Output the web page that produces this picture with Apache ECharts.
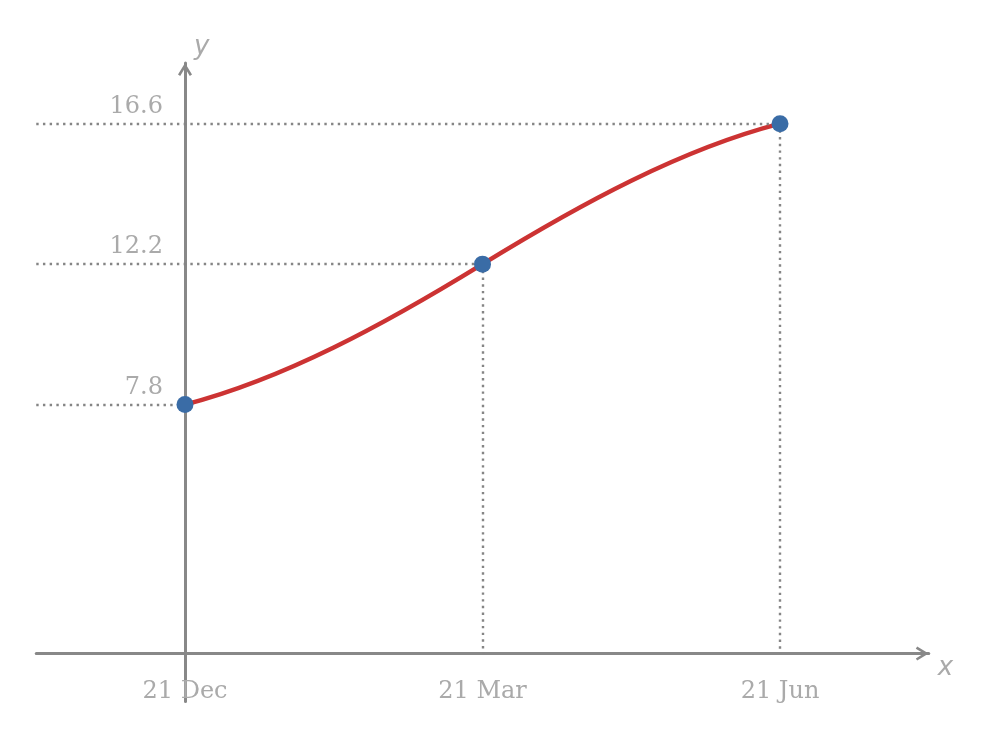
<!DOCTYPE html>
<html>
<head>
<meta charset="utf-8">
<script src="https://cdn.jsdelivr.net/npm/echarts@6/dist/echarts.min.js"></script>
<style>html,body{margin:0;padding:0;background:#fff;}#chart{width:991px;height:738px;}</style>
</head>
<body>
<div id="chart"></div>
<script>
// Data
var categories = ['21 Dec', '21 Mar', '21 Jun'];
var xPositions = [0, 1, 2];
var dayHours = [7.8, 12.2, 16.6];
var yTickValues = [7.8, 12.2, 16.6];

var points = xPositions.map(function (x, i) { return [x, dayHours[i]]; });

var labelColor = '#aaaaaa';
var axisColor = '#888888';
var serif = 'DejaVu Serif';

// dotted guide lines
var guideLines = [];
points.forEach(function (p) {
  guideLines.push([{ coord: [-0.5, p[1]] }, { coord: [p[0], p[1]] }]);
  if (p[0] !== 0) guideLines.push([{ coord: [p[0], p[1]] }, { coord: [p[0], 0] }]);
});

// tangent factors for the smooth curve (style)
var endTangent = 0.55, midTangent = 1.3;

var chevron = 'path://M0,11.5 L7,0 L14,11.5 L11.8,12.85 L7,4.97 L2.2,12.85 Z';

var chart = echarts.init(document.getElementById('chart'));
chart.setOption({
  animation: false,
  grid: { left: 36.25, right: 62.25, top: 63, bottom: 36.5, containLabel: false, outerBoundsMode: 'none' },
  xAxis: {
    type: 'value', min: -0.5, max: 2.5,
    name: 'x', nameLocation: 'end', nameGap: 9,
    nameTextStyle: { color: labelColor, fontSize: 26, fontStyle: 'italic', fontFamily: 'DejaVu Sans', verticalAlign: 'top', lineHeight: 30 },
    axisLine: { onZero: true, lineStyle: { color: axisColor, width: 3 }, symbol: ['none', chevron], symbolSize: [14, 13], symbolOffset: [0, -6.5] },
    axisTick: { show: false },
    splitLine: { show: false },
    axisLabel: {
      customValues: xPositions, margin: -10, verticalAlign: 'middle', color: labelColor, fontSize: 24, fontFamily: serif,
      formatter: function (v) { var i = xPositions.indexOf(v); return i >= 0 ? categories[i] : ''; }
    }
  },
  yAxis: {
    type: 'value', min: -1.5, max: 18.5,
    name: 'y', nameLocation: 'end', nameGap: 3,
    nameTextStyle: { color: labelColor, fontSize: 26, fontStyle: 'italic', fontFamily: 'DejaVu Sans', align: 'left', padding: [0, 0, 0, 9] },
    axisLine: { onZero: true, lineStyle: { color: axisColor, width: 3 }, symbol: ['none', chevron], symbolSize: [14, 13], symbolOffset: [0, -6.5] },
    axisTick: { show: false },
    splitLine: { show: false },
    axisLabel: {
      customValues: yTickValues, inside: true, margin: 126.75, align: 'right', color: labelColor, fontSize: 24, fontFamily: serif,
      verticalAlign: 'bottom', lineHeight: 34,
      formatter: function (v) { return v.toFixed(1); }
    }
  },
  series: [
    {
      type: 'custom',
      data: [0],
      z: 3,
      silent: true,
      renderItem: function (params, api) {
        var px = points.map(function (p) { return api.coord(p); });
        var n = px.length;
        var tang = px.map(function (p, i) {
          var a = px[Math.max(0, i - 1)], b = px[Math.min(n - 1, i + 1)];
          var span = (i === 0 || i === n - 1) ? 1 : 2;
          var k = (i === 0 || i === n - 1) ? endTangent : midTangent;
          return [(b[0] - a[0]) / span, k * (b[1] - a[1]) / span];
        });
        var d = 'M' + px[0][0] + ',' + px[0][1];
        for (var i = 0; i < n - 1; i++) {
          var c1 = [px[i][0] + tang[i][0] / 3, px[i][1] + tang[i][1] / 3];
          var c2 = [px[i + 1][0] - tang[i + 1][0] / 3, px[i + 1][1] - tang[i + 1][1] / 3];
          d += ' C' + c1[0] + ',' + c1[1] + ' ' + c2[0] + ',' + c2[1] + ' ' + px[i + 1][0] + ',' + px[i + 1][1];
        }
        return {
          type: 'path',
          shape: { pathData: d },
          style: { fill: null, stroke: '#cc3333', lineWidth: 4.5 }
        };
      }
    },
    {
      type: 'scatter',
      data: points,
      symbolSize: 17,
      z: 5,
      itemStyle: { color: '#3a6ca6', opacity: 1 },
      markLine: {
        silent: true,
        symbol: ['none', 'none'],
        label: { show: false },
        lineStyle: { color: '#858585', width: 2.4, type: [2.4, 4.3], opacity: 1 },
        data: guideLines
      }
    }
  ]
});
</script>
</body>
</html>
